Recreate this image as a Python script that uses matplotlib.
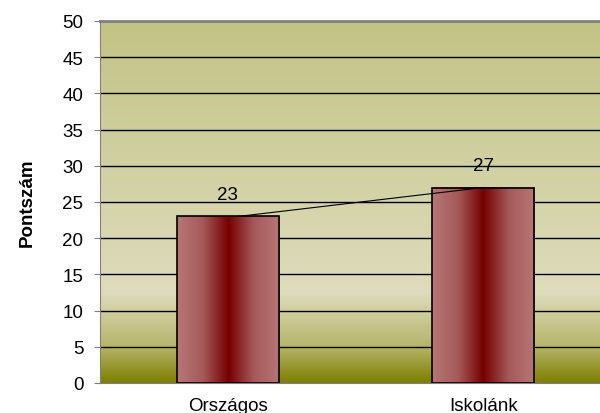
import numpy as np
import matplotlib
matplotlib.use("Agg")
import matplotlib.pyplot as plt
from matplotlib.colors import LinearSegmentedColormap

categories = ["Országos", "Iskolánk"]
values = [23, 27]
yticks = [0, 5, 10, 15, 20, 25, 30, 35, 40, 45, 50]

plt.rcParams['font.family'] = ['Liberation Sans', 'DejaVu Sans']
FS = 13.5

fig = plt.figure(figsize=(6, 4.14), dpi=100)
ax = fig.add_axes([100/600, 30/414, 511/600, 362/414])
ax.set_xlim(-0.5, 1.5)
ax.set_ylim(0, 50)

# background gradient
bg = LinearSegmentedColormap.from_list("bg", [(0, "#7f7f00"), (0.1, "#b6b56a"), (0.25, "#dedcbc"), (0.55, "#d3d2a6"), (1.0, "#c3c386")])
grad = np.linspace(0, 1, 256).reshape(-1, 1)
ax.imshow(grad, aspect='auto', cmap=bg, origin='lower', extent=(-0.5, 1.5, 0, 50), zorder=0)

for y in yticks[1:]:
    ax.axhline(y, color='black', lw=1.0, zorder=1)

# bars with horizontal gradient
barcm = LinearSegmentedColormap.from_list("bar", [(0, "#b87676"), (0.25, "#a55a5a"), (0.5, "#760000"), (0.75, "#a55a5a"), (1, "#b87676")])
hgrad = np.linspace(0, 1, 256).reshape(1, -1)
w = 0.4
xs = np.arange(len(categories))
for x, v in zip(xs, values):
    ax.imshow(hgrad, aspect='auto', cmap=barcm, extent=(x - w/2, x + w/2, 0, v), zorder=2)
    ax.add_patch(plt.Rectangle((x - w/2, 0), w, v, fill=False, ec='black', lw=1.2, zorder=3))
    ax.text(x, v + 1.8, str(v), ha='center', va='bottom', fontsize=FS, zorder=4)

ax.plot([xs[0] + 0.04, xs[1]], values, color='black', lw=0.8, zorder=4)

ax.set_xticks(xs)
ax.set_xticklabels(categories, fontsize=FS)
ax.set_yticks(yticks)
ax.set_yticklabels([str(t) for t in yticks], fontsize=FS)
ax.tick_params(axis='x', length=0, pad=10)
ax.tick_params(axis='y', length=4, color='#808080', direction='out', pad=8)
for s in ['left', 'bottom', 'top']:
    ax.spines[s].set_color('#808080')
ax.spines['top'].set_linewidth(2)
ax.spines['right'].set_visible(False)
ax.set_ylabel("Pontszám", fontsize=FS, fontweight='bold', labelpad=19)

fig.savefig("out.png", dpi=100)
